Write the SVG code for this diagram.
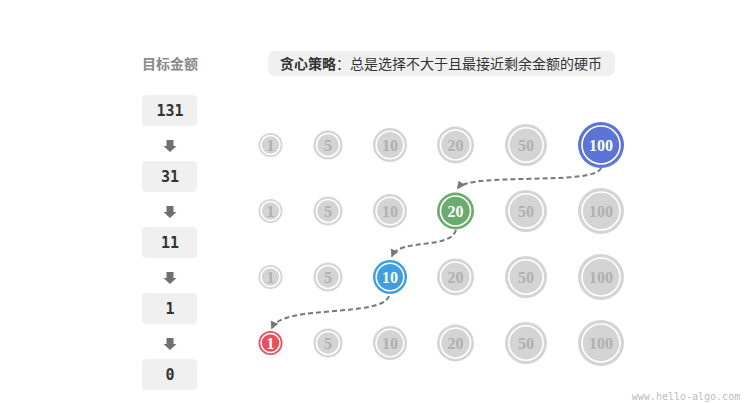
<svg xmlns="http://www.w3.org/2000/svg" width="756" height="403" viewBox="0 0 756 403">
<defs>
<style>
.bg{fill:#ffffff}
.box{fill:#f0f0f0}
.num{font-family:"DejaVu Sans Mono","Liberation Mono",monospace;font-weight:bold;font-size:15px;fill:#333;text-anchor:middle;dominant-baseline:central}
.hd{font-family:"Noto Sans CJK SC","Noto Sans",sans-serif;font-weight:bold;font-size:14px;fill:#8a8a8a;text-anchor:middle;dominant-baseline:central}
.tt{font-family:"Noto Sans CJK SC","Noto Sans",sans-serif;font-size:14px;fill:#333;text-anchor:middle;dominant-baseline:central}
.arr{fill:#707070}
.g .o{fill:#d4d4d4}
.g .i{fill:#d4d4d4;stroke:#fff;stroke-width:1.6}
.g text{fill:#b0b0b0}
.c text{fill:#fff}
.c .i{stroke:#fff;stroke-width:1.6}
.coin text{font-family:"Liberation Serif","DejaVu Serif",serif;font-weight:bold;font-size:16px;text-anchor:middle;dominant-baseline:central}
.link{fill:none;stroke:#777;stroke-width:2;stroke-dasharray:5 3}
.wm{font-family:"DejaVu Sans Mono",monospace;font-size:10px;fill:#bbb;text-anchor:middle}
</style>
<marker id="ah" viewBox="0 0 10 10" refX="8" refY="5" markerWidth="4" markerHeight="4" orient="auto-start-reverse">
<path d="M0,0 L10,5 L0,10 z" fill="#777"/>
</marker>
<path id="down" d="M-3.5,-6 H3.5 V0 H6.5 L0,6 L-6.5,0 H-3.5 Z"/>
</defs>
<rect class="bg" width="756" height="403"/>

<g id="left-column">
<text class="hd" x="170" y="63">目标金额</text>
<g id="amt131"><rect class="box" x="142" y="95" width="55" height="31" rx="4"/><text class="num" x="170" y="110.5">131</text></g>
<use href="#down" class="arr" x="170" y="146"/>
<g id="amt31"><rect class="box" x="142" y="161" width="55" height="31" rx="4"/><text class="num" x="170" y="176.5">31</text></g>
<use href="#down" class="arr" x="170" y="212"/>
<g id="amt11"><rect class="box" x="142" y="227" width="55" height="31" rx="4"/><text class="num" x="170" y="242.5">11</text></g>
<use href="#down" class="arr" x="170" y="278"/>
<g id="amt1"><rect class="box" x="142" y="293" width="55" height="31" rx="4"/><text class="num" x="170" y="308.5">1</text></g>
<use href="#down" class="arr" x="170" y="344"/>
<g id="amt0"><rect class="box" x="142" y="359" width="55" height="31" rx="4"/><text class="num" x="170" y="374.5">0</text></g>
</g>

<g id="title">
<rect class="box" x="268" y="51" width="347" height="25" rx="7"/>
<text class="tt" x="441" y="63"><tspan font-weight="bold">贪心策略</tspan>：总是选择不大于且最接近剩余金额的硬币</text>
</g>

<g id="connectors">
<path class="link" d="M601,168 C596,186 470,172 458,188" marker-end="url(#ah)"/>
<path class="link" d="M456,230 C450,250 400,238 392,256" marker-end="url(#ah)"/>
<path class="link" d="M389,296 C382,318 282,304 272,328" marker-end="url(#ah)"/>
</g>

<g id="coins">
<!-- row 1 -->
<g id="r1c1" class="coin g"><circle class="o" cx="270.5" cy="145" r="12"/><circle class="i" cx="270.5" cy="145" r="9.5"/><text x="270.5" y="145">1</text></g>
<g id="r1c5" class="coin g"><circle class="o" cx="328" cy="145" r="14.5"/><circle class="i" cx="328" cy="145" r="11.5"/><text x="328" y="145">5</text></g>
<g id="r1c10" class="coin g"><circle class="o" cx="390" cy="145" r="17"/><circle class="i" cx="390" cy="145" r="13.8"/><text x="390" y="145">10</text></g>
<g id="r1c20" class="coin g"><circle class="o" cx="455.5" cy="145" r="18.5"/><circle class="i" cx="455.5" cy="145" r="15"/><text x="455.5" y="145">20</text></g>
<g id="r1c50" class="coin g"><circle class="o" cx="526" cy="145" r="21"/><circle class="i" cx="526" cy="145" r="17.2"/><text x="526" y="145">50</text></g>
<g id="r1c100" class="coin c"><circle class="o" cx="601" cy="145" r="23" fill="#5c74d6"/><circle class="i" cx="601" cy="145" r="19" fill="#5c74d6"/><text x="601" y="145">100</text></g>
<!-- row 2 -->
<g id="r2c1" class="coin g"><circle class="o" cx="270.5" cy="211" r="12"/><circle class="i" cx="270.5" cy="211" r="9.5"/><text x="270.5" y="211">1</text></g>
<g id="r2c5" class="coin g"><circle class="o" cx="328" cy="211" r="14.5"/><circle class="i" cx="328" cy="211" r="11.5"/><text x="328" y="211">5</text></g>
<g id="r2c10" class="coin g"><circle class="o" cx="390" cy="211" r="17"/><circle class="i" cx="390" cy="211" r="13.8"/><text x="390" y="211">10</text></g>
<g id="r2c20" class="coin c"><circle class="o" cx="455.5" cy="211" r="18.5" fill="#6aab6e"/><circle class="i" cx="455.5" cy="211" r="15" fill="#6aab6e"/><text x="455.5" y="211">20</text></g>
<g id="r2c50" class="coin g"><circle class="o" cx="526" cy="211" r="21"/><circle class="i" cx="526" cy="211" r="17.2"/><text x="526" y="211">50</text></g>
<g id="r2c100" class="coin g"><circle class="o" cx="601" cy="211" r="23"/><circle class="i" cx="601" cy="211" r="19"/><text x="601" y="211">100</text></g>
<!-- row 3 -->
<g id="r3c1" class="coin g"><circle class="o" cx="270.5" cy="277" r="12"/><circle class="i" cx="270.5" cy="277" r="9.5"/><text x="270.5" y="277">1</text></g>
<g id="r3c5" class="coin g"><circle class="o" cx="328" cy="277" r="14.5"/><circle class="i" cx="328" cy="277" r="11.5"/><text x="328" y="277">5</text></g>
<g id="r3c10" class="coin c"><circle class="o" cx="390" cy="277" r="17" fill="#3d9ee2"/><circle class="i" cx="390" cy="277" r="13.8" fill="#3d9ee2"/><text x="390" y="277">10</text></g>
<g id="r3c20" class="coin g"><circle class="o" cx="455.5" cy="277" r="18.5"/><circle class="i" cx="455.5" cy="277" r="15"/><text x="455.5" y="277">20</text></g>
<g id="r3c50" class="coin g"><circle class="o" cx="526" cy="277" r="21"/><circle class="i" cx="526" cy="277" r="17.2"/><text x="526" y="277">50</text></g>
<g id="r3c100" class="coin g"><circle class="o" cx="601" cy="277" r="23"/><circle class="i" cx="601" cy="277" r="19"/><text x="601" y="277">100</text></g>
<!-- row 4 -->
<g id="r4c1" class="coin c"><circle class="o" cx="270.5" cy="343" r="12" fill="#e8505f"/><circle class="i" cx="270.5" cy="343" r="9.5" fill="#e8505f"/><text x="270.5" y="343">1</text></g>
<g id="r4c5" class="coin g"><circle class="o" cx="328" cy="343" r="14.5"/><circle class="i" cx="328" cy="343" r="11.5"/><text x="328" y="343">5</text></g>
<g id="r4c10" class="coin g"><circle class="o" cx="390" cy="343" r="17"/><circle class="i" cx="390" cy="343" r="13.8"/><text x="390" y="343">10</text></g>
<g id="r4c20" class="coin g"><circle class="o" cx="455.5" cy="343" r="18.5"/><circle class="i" cx="455.5" cy="343" r="15"/><text x="455.5" y="343">20</text></g>
<g id="r4c50" class="coin g"><circle class="o" cx="526" cy="343" r="21"/><circle class="i" cx="526" cy="343" r="17.2"/><text x="526" y="343">50</text></g>
<g id="r4c100" class="coin g"><circle class="o" cx="601" cy="343" r="23"/><circle class="i" cx="601" cy="343" r="19"/><text x="601" y="343">100</text></g>
</g>

<text class="wm" x="686" y="400">www.hello-algo.com</text>
</svg>
